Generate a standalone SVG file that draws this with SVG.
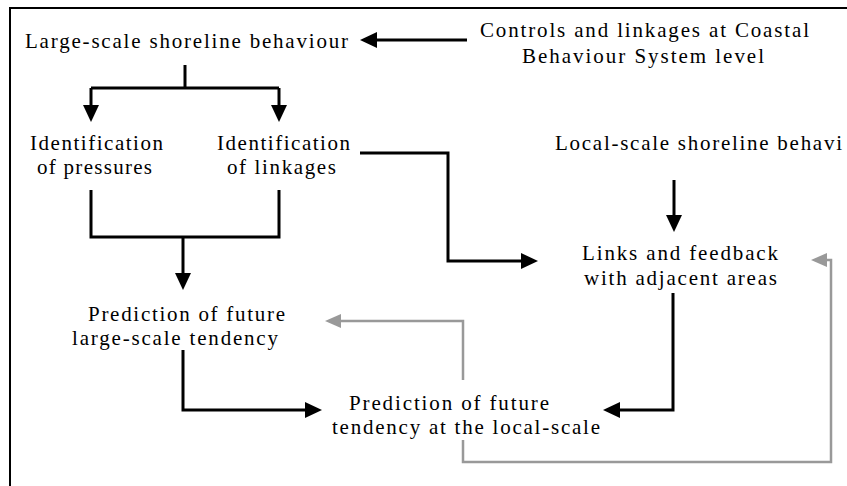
<svg xmlns="http://www.w3.org/2000/svg" width="847" height="486" viewBox="0 0 847 486">
<style>
text{font-family:"Liberation Serif","Times New Roman",serif;font-size:21px;fill:#000;}
.c{fill:none;stroke:#000;stroke-width:3;stroke-linejoin:miter;}
.g{fill:none;stroke:#999;stroke-width:2.5;stroke-linejoin:miter;}
.frame{fill:none;stroke:#000;stroke-width:2;}
</style>
<defs>
<marker id="ab" markerUnits="userSpaceOnUse" markerWidth="17" markerHeight="16" refX="5" refY="8" orient="auto">
<path d="M0,0 L17,8 L0,16 z" fill="#000"/>
</marker>
<marker id="ag" markerUnits="userSpaceOnUse" markerWidth="16" markerHeight="14" refX="5" refY="7" orient="auto">
<path d="M0,0 L16,7 L0,14 z" fill="#999"/>
</marker>
</defs>
<rect width="847" height="486" fill="#fff"/>
<path class="frame" d="M10,486 V8 H847"/>

<g id="large-scale">
<text x="25" y="48" textLength="323" lengthAdjust="spacing">Large-scale shoreline behaviour</text>
</g>
<g id="controls">
<text x="480" y="37" textLength="329" lengthAdjust="spacing">Controls and linkages at Coastal</text>
<text x="522" y="63" textLength="242" lengthAdjust="spacing">Behaviour System level</text>
</g>
<g id="pressures">
<text x="30" y="150" textLength="133" lengthAdjust="spacing">Identification</text>
<text x="37" y="174" textLength="115" lengthAdjust="spacing">of pressures</text>
</g>
<g id="linkages">
<text x="217" y="150" textLength="133" lengthAdjust="spacing">Identification</text>
<text x="227" y="174" textLength="109" lengthAdjust="spacing">of linkages</text>
</g>
<g id="local-scale">
<text x="555" y="150" textLength="287" lengthAdjust="spacing">Local-scale shoreline behavi</text>
</g>
<g id="links-feedback">
<text x="582" y="260" textLength="196" lengthAdjust="spacing">Links and feedback</text>
<text x="584" y="285" textLength="193" lengthAdjust="spacing">with adjacent areas</text>
</g>
<g id="predict-large">
<text x="88" y="321" textLength="197" lengthAdjust="spacing">Prediction of future</text>
<text x="72" y="345" textLength="206" lengthAdjust="spacing">large-scale tendency</text>
</g>
<g id="predict-local">
<text x="349" y="410" textLength="200" lengthAdjust="spacing">Prediction of future</text>
<text x="332" y="434" textLength="268" lengthAdjust="spacing">tendency at the local-scale</text>
</g>

<g id="connectors">
<path class="c" d="M467,40 H372" marker-end="url(#ab)"/>
<path class="c" d="M185,65 V88"/>
<path class="c" d="M91,88 H279"/>
<path class="c" d="M91,88 V110" marker-end="url(#ab)"/>
<path class="c" d="M279,88 V110" marker-end="url(#ab)"/>
<path class="c" d="M91,190 V237 H279 V190"/>
<path class="c" d="M183,237 V278" marker-end="url(#ab)"/>
<path class="c" d="M360,153 H448 V261 H526" marker-end="url(#ab)"/>
<path class="c" d="M674,180 V220" marker-end="url(#ab)"/>
<path class="c" d="M183,350 V410 H310" marker-end="url(#ab)"/>
<path class="c" d="M673,293 V410 H615" marker-end="url(#ab)"/>
<path class="g" d="M463,380 V321 H336" marker-end="url(#ag)"/>
<path class="g" d="M463,440 V462 H831 V260 H822" marker-end="url(#ag)"/>
</g>
</svg>
